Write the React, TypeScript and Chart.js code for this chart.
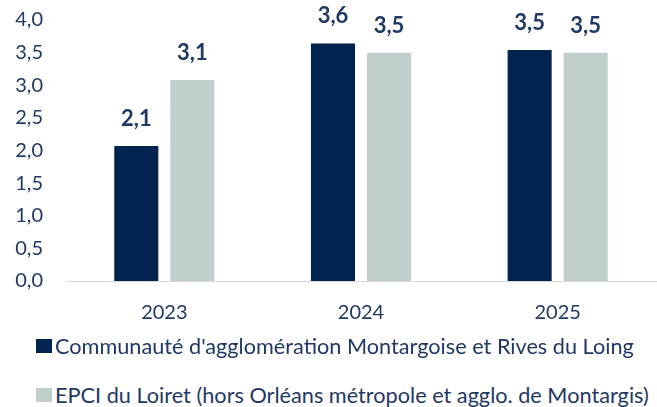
import React, { useEffect, useRef } from "react";
import { Chart, registerables } from "chart.js";

Chart.register(...registerables);

const categories = ["2023", "2024", "2025"];
const seriesNames = [
  "Communauté d'agglomération Montargoise et Rives du Loing",
  "EPCI du Loiret (hors Orléans métropole et agglo. de Montargis)",
];
const montargisValues = [2.07, 3.64, 3.54];
const loiretValues = [3.08, 3.5, 3.5];
const yTicks = [0, 0.5, 1, 1.5, 2, 2.5, 3, 3.5, 4];

const DARK = "#00234f";
const LIGHT = "#c0cfce";
const TEXT = "#1f3864";
const FONT = "Lato";
const colors = [DARK, LIGHT];

const fmt = (v: number) => v.toFixed(1).replace(".", ",");

const valueLabels = {
  id: "valueLabels",
  afterDatasetsDraw(chart: any) {
    const ctx = chart.ctx;
    ctx.save();
    ctx.font = `bold 22px ${FONT}`;
    ctx.fillStyle = TEXT;
    ctx.textAlign = "center";
    ctx.textBaseline = "alphabetic";
    chart.data.datasets.forEach((ds: any, di: number) => {
      const meta = chart.getDatasetMeta(di);
      meta.data.forEach((bar: any, i: number) => {
        ctx.fillText(fmt(ds.data[i]), bar.x, bar.y - 20);
      });
    });
    ctx.restore();
  },
};

export default function App() {
  const ref = useRef<HTMLCanvasElement>(null);
  useEffect(() => {
    document.body.style.margin = "0";
    document.body.style.overflow = "hidden";
    const chart = new Chart(ref.current!, {
      type: "bar",
      data: {
        labels: categories,
        datasets: [
          {
            label: seriesNames[0],
            data: montargisValues,
            backgroundColor: DARK,
            categoryPercentage: 0.57,
            barPercentage: 0.786,
          },
          {
            label: seriesNames[1],
            data: loiretValues,
            backgroundColor: LIGHT,
            categoryPercentage: 0.57,
            barPercentage: 0.786,
          },
        ],
      },
      options: {
        animation: false,
        responsive: true,
        maintainAspectRatio: false,
        layout: { padding: { top: 20, left: 0, right: 1, bottom: 0 } },
        plugins: {
          tooltip: { enabled: false },
          legend: { display: false },
        },
        scales: {
          x: {
            grid: { display: false, drawTicks: false },
            border: { display: true, color: "#d9d9d9", width: 1 },
            ticks: {
              color: TEXT,
              padding: 20,
              font: { family: FONT, size: 20 },
            },
          },
          y: {
            min: 0,
            max: 4,
            afterBuildTicks: (s: any) => {
              s.ticks = yTicks.map((v) => ({ value: v }));
            },
            afterFit: (s: any) => {
              s.width = 66;
              s.paddingTop = 12;
              s.paddingBottom = 12;
            },
            grid: { display: false, drawTicks: false },
            border: { display: false },
            ticks: {
              color: TEXT,
              padding: 23,
              font: { family: FONT, size: 20 },
              callback: (v: any) => fmt(Number(v)),
            },
          },
        },
      },
      plugins: [valueLabels],
    });
    return () => chart.destroy();
  }, []);
  const rowTops = [336, 385];
  return (
    <div style={{ width: 657, height: 407, position: "relative", overflow: "hidden" }}>
      <div style={{ width: 657, height: 345, position: "absolute", left: 0, top: 0 }}>
        <canvas ref={ref} />
      </div>
      {seriesNames.map((name, i) => (
        <div
          key={name}
          style={{
            position: "absolute",
            left: 36,
            top: rowTops[i],
            height: 20,
            display: "flex",
            alignItems: "center",
            whiteSpace: "nowrap",
            fontFamily: FONT,
            fontSize: 21.7,
            color: TEXT,
          }}
        >
          <span
            style={{
              display: "inline-block",
              width: 16,
              height: 14,
              background: colors[i],
              marginRight: 3,
            }}
          />
          <span>{name}</span>
        </div>
      ))}
    </div>
  );
}
